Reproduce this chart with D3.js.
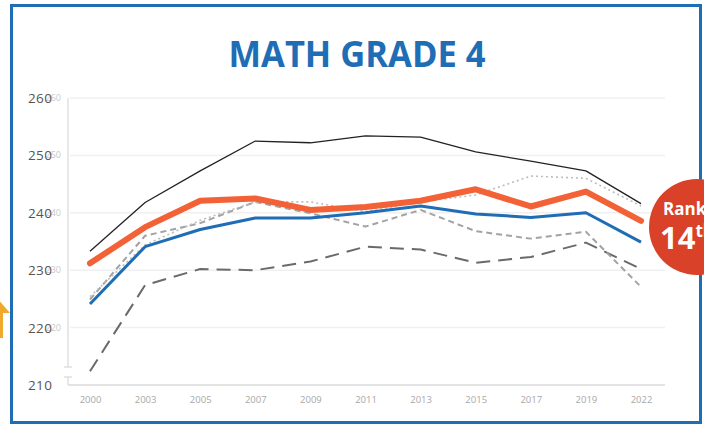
<!DOCTYPE html>
<html><head><meta charset="utf-8">
<script src="https://cdn.jsdelivr.net/npm/d3@7/dist/d3.min.js"></script>
<style>html,body{margin:0;padding:0;background:#fff;overflow:hidden}</style>
</head><body><svg id="c" width="704" height="427"></svg>
<script>
const years = ["2000","2003","2005","2007","2009","2011","2013","2015","2017","2019","2022"];
const yTicks = [220,230,240,250,260];
const yLabels = [210,220,230,240,250,260];
const topLine    = [233.3,241.8,247.3,252.5,252.2,253.4,253.2,250.6,249.0,247.3,241.6];
const stateLine  = [231.2,237.5,242.1,242.5,240.5,241.0,242.1,244.1,241.1,243.7,238.6];
const nationLine = [224.1,234.1,237.1,239.1,239.1,240.0,241.2,239.8,239.2,240.0,234.9];
const grayDash   = [224.9,236.0,238.2,241.9,239.9,237.6,240.5,236.8,235.5,236.7,227.1];
const dotted     = [225.4,234.4,238.7,241.9,241.9,240.2,241.9,243.1,246.4,246.0,241.2];
const lowDash    = [212.4,227.4,230.2,230.0,231.5,234.1,233.6,231.3,232.3,234.8,230.2];

const svg = d3.select("#c");
const x = d3.scalePoint().domain(years).range([90,641]);
const y = d3.scaleLinear().domain([210,260]).range([385,98]);

// border
svg.append("rect").attr("x",11.5).attr("y",5.5).attr("width",689).attr("height",417)
  .attr("fill","none").attr("stroke","#1e6db5").attr("stroke-width",3);

// arrow at left
svg.append("path").attr("d","M-4,297 L10,313 L3,313 L3,338 L-4,338 Z").attr("fill","#f0a92c");

// title
svg.append("text").attr("x",357).attr("y",67).attr("text-anchor","middle")
  .attr("font-family","'Liberation Sans Narrow','Open Sans',sans-serif").attr("font-weight","bold")
  .attr("font-size",36).attr("fill","#1e6db5").attr("textLength",257).attr("lengthAdjust","spacingAndGlyphs")
  .text("MATH GRADE 4");

// gridlines
svg.append("g").selectAll("line").data(yTicks).join("line")
  .attr("x1",70).attr("x2",665).attr("y1",d=>y(d)).attr("y2",d=>y(d))
  .attr("stroke","#f0f0f0").attr("stroke-width",1.5);
// baseline
svg.append("line").attr("x1",68).attr("x2",665).attr("y1",y(210)).attr("y2",y(210))
  .attr("stroke","#e3e3e3").attr("stroke-width",2);
// y axis with break
svg.append("line").attr("x1",68).attr("x2",68).attr("y1",y(260)).attr("y2",367).attr("stroke","#d8d8d8").attr("stroke-width",1.2);
svg.append("line").attr("x1",68).attr("x2",68).attr("y1",377).attr("y2",y(210)).attr("stroke","#d8d8d8").attr("stroke-width",1.2);
[367,377].forEach(v=>svg.append("line").attr("x1",64).attr("x2",72).attr("y1",v).attr("y2",v).attr("stroke","#d8d8d8").attr("stroke-width",1.2));

// small y labels
svg.append("g").selectAll("text").data(yTicks).join("text")
  .attr("x",61).attr("y",d=>y(d)+3).attr("text-anchor","end")
  .attr("font-family","'Open Sans',sans-serif").attr("font-size",9).attr("fill","#c8c8c8").text(d=>d);
// big y labels
svg.append("g").selectAll("text").data(yLabels).join("text")
  .attr("x",28).attr("y",d=>y(d)+5).attr("text-anchor","start")
  .attr("font-family","'Open Sans',sans-serif").attr("font-size",13.5).attr("letter-spacing",0.4).attr("fill","#555").text(d=>d);

// x labels
const xAxis = d3.axisBottom(x).tickSize(0).tickPadding(0);
const gx = svg.append("g").attr("transform","translate(0,396)").call(xAxis);
gx.select(".domain").remove();
gx.selectAll("text").attr("font-family","'Liberation Sans Narrow','Open Sans',sans-serif")
  .attr("font-size",9.5).attr("fill","#a8a8a8");

const line = d3.line().x((d,i)=>x(years[i])).y(d=>y(d));
const series = [
  {v:lowDash, c:"#6a6a6a", w:2, dash:"14,8"},
  {v:grayDash, c:"#a3a3a3", w:2, dash:"6,4"},
  {v:dotted, c:"#bdbdbd", w:1.6, dash:"2,3"},
  {v:topLine, c:"#222", w:1.3, dash:null},
  {v:nationLine, c:"#1e6db5", w:3, dash:null},
  {v:stateLine, c:"#f26236", w:6, dash:null}
];
series.forEach(s=>{
  svg.append("path").attr("d",line(s.v)).attr("fill","none").attr("stroke",s.c)
    .attr("stroke-width",s.w).attr("stroke-linecap",s.w>4?"round":"butt").attr("stroke-linejoin","round")
    .attr("stroke-dasharray",s.dash);
});

// rank badge
svg.append("circle").attr("cx",697).attr("cy",227).attr("r",48).attr("fill","#d94129");
svg.append("text").attr("x",663).attr("y",215).attr("font-family","'Open Sans',sans-serif")
  .attr("font-weight","bold").attr("font-size",17).attr("fill","#fff").text("Rank");
const t = svg.append("text").attr("x",660).attr("y",249).attr("font-family","'Open Sans',sans-serif")
  .attr("font-weight","bold").attr("font-size",31).attr("fill","#fff");
t.append("tspan").text("14");
t.append("tspan").attr("font-size",17).attr("dy",-12).text("th");
</script></body></html>
